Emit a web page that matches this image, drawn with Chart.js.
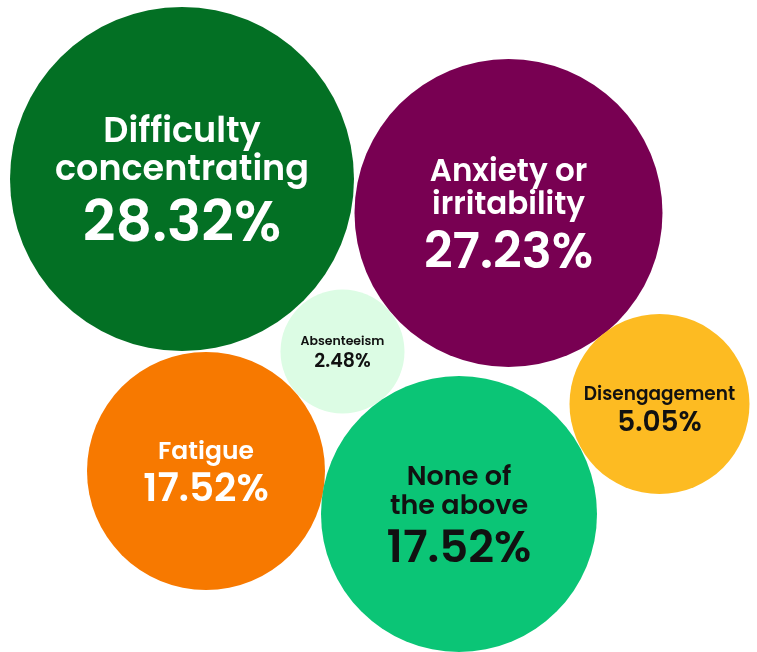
<!DOCTYPE html>
<html>
<head>
<meta charset="utf-8">
<title>Symptoms reported</title>
<script src="https://cdn.jsdelivr.net/npm/chart.js@4.4.1/dist/chart.umd.min.js"></script>
<style>
  html, body { margin: 0; padding: 0; background: #ffffff; }
  #wrap { width: 757px; height: 652px; }
</style>
</head>
<body>
<div id="wrap"><canvas id="chart" width="757" height="652"></canvas></div>
<script>
// Survey categories and their shares (%)
const categories = [
  'Difficulty concentrating',
  'Anxiety or irritability',
  'Absenteeism',
  'Fatigue',
  'None of the above',
  'Disengagement'
];
const shares = [28.32, 27.23, 2.48, 17.52, 17.52, 5.05];

// Text shown inside each bubble (category name broken into lines)
const labelLines = [
  ['Difficulty', 'concentrating'],
  ['Anxiety or', 'irritability'],
  ['Absenteeism'],
  ['Fatigue'],
  ['None of', 'the above'],
  ['Disengagement']
];

// Packed layout: bubble centres (in canvas units) and radii (px)
const bubbleX = [182, 508.5, 342.5, 206, 459, 659.5];
const bubbleY = [179, 213, 351.5, 471, 514, 404];
const bubbleR = [172, 154, 62, 119, 138, 90];

// Styling
const fillColors = ['#037024', '#780052', '#dcfce4', '#f77900', '#0bc576', '#fdbb22'];
const textColors = ['#ffffff', '#ffffff', '#111111', '#ffffff', '#111111', '#111111'];
const nameFont  = [35, 31, 12.5, 25, 27, 18.5];
const valueFont = [57, 50, 19, 39, 45, 28];
const textShift = [0, 0, 0, 0, 0, 5];
const FONT_FAMILY = 'Poppins, Inter, "Open Sans", sans-serif';

const points = categories.map((c, i) => ({ x: bubbleX[i], y: bubbleY[i], r: bubbleR[i] }));

// Writes the category name and share in the middle of each bubble
const bubbleLabels = {
  id: 'bubbleLabels',
  afterDatasetsDraw(chart) {
    const ctx = chart.ctx;
    const meta = chart.getDatasetMeta(0);
    meta.data.forEach((el, i) => {
      const f1 = nameFont[i], f2 = valueFont[i];
      const lines = labelLines[i];
      const step = f1 * 1.08;
      const cap = f1 * 0.72;
      // block spans from first line's cap top to value baseline
      const lastName = (lines.length - 1) * step;
      const valueBase = lastName + f2 * 1.03 + 2;
      const top = el.y + textShift[i] - (cap + valueBase) / 2;
      const firstBase = top + cap;
      ctx.save();
      ctx.fillStyle = textColors[i];
      ctx.textAlign = 'center';
      ctx.textBaseline = 'alphabetic';
      ctx.font = '600 ' + f1 + 'px ' + FONT_FAMILY;
      lines.forEach((t, k) => ctx.fillText(t, el.x, firstBase + k * step));
      ctx.font = '600 ' + f2 + 'px ' + FONT_FAMILY;
      ctx.fillText(shares[i].toFixed(2) + '%', el.x, firstBase + valueBase);
      ctx.restore();
    });
  }
};

new Chart(document.getElementById('chart'), {
  type: 'bubble',
  data: {
    labels: categories,
    datasets: [{
      data: points,
      backgroundColor: fillColors,
      borderWidth: 0,
      hoverBorderWidth: 0,
      clip: false
    }]
  },
  options: {
    responsive: false,
    animation: false,
    events: [],
    layout: { padding: 0, autoPadding: false },
    plugins: { legend: { display: false }, tooltip: { enabled: false } },
    scales: {
      x: { type: 'linear', min: 0, max: 757, display: false },
      y: { type: 'linear', min: 0, max: 652, reverse: true, display: false }
    }
  },
  plugins: [bubbleLabels]
});
</script>
</body>
</html>
